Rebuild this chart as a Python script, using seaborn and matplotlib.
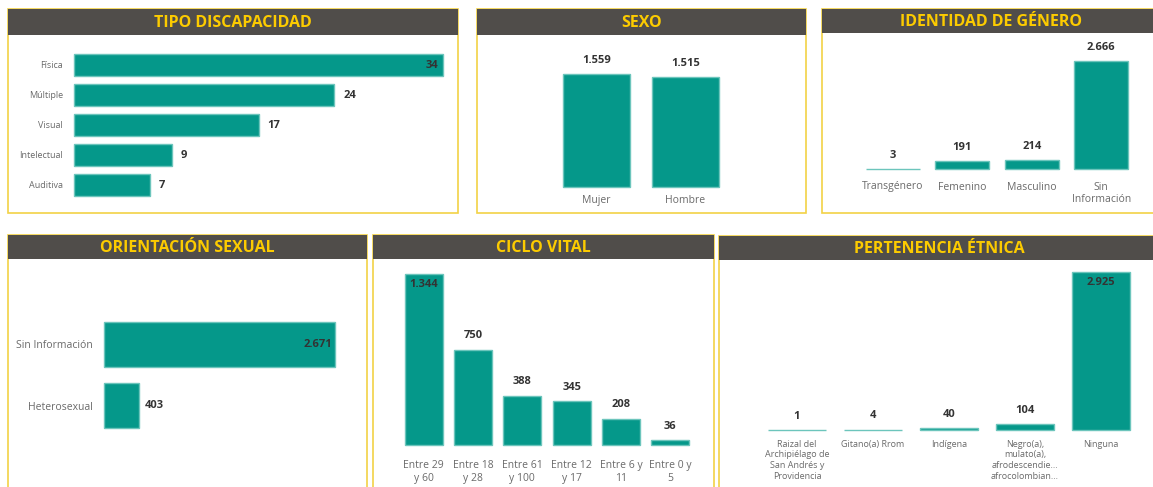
import matplotlib.pyplot as plt
import matplotlib.patches as mpatches
import seaborn as sns

# data
disc_cats = ["Física", "Múltiple", "Visual", "Intelectual", "Auditiva"]
disc_vals = [34, 24, 17, 9, 7]

sexo_cats = ["Mujer", "Hombre"]
sexo_vals = [1559, 1515]

genero_cats = ["Transgénero", "Femenino", "Masculino", "Sin\nInformación"]
genero_vals = [3, 191, 214, 2666]

orient_cats = ["Sin Información", "Heterosexual"]
orient_vals = [2671, 403]

ciclo_cats = ["Entre 29\ny 60", "Entre 18\ny 28", "Entre 61\ny 100", "Entre 12\ny 17",
              "Entre 6 y\n11", "Entre 0 y\n5"]
ciclo_vals = [1344, 750, 388, 345, 208, 36]

etnia_cats = ["Raizal del\nArchipiélago de\nSan Andrés y\nProvidencia", "Gitano(a) Rrom",
              "Indígena", "Negro(a),\nmulato(a),\nafrodescendie...\nafrocolombian...", "Ninguna"]
etnia_vals = [1, 4, 40, 104, 2925]

TEAL = "#05988a"
EDGE = "#6cc5bc"
HEADER = "#504d4a"
GOLD = "#fccb00"
BORDER = "#f2d246"
TICK = "#6a6a6a"
VALUE = "#333333"

W, H = 1153, 487

sns.set_theme(style="white")
plt.rcParams["font.family"] = ["Open Sans", "DejaVu Sans"]

fig = plt.figure(figsize=(W / 100, H / 100), dpi=100)


def fmt(v):
    return f"{v:,}".replace(",", ".")


def box(x0, y0, x1, y1):
    return [x0 / W, 1 - y1 / H, (x1 - x0) / W, (y1 - y0) / H]


def panel(x0, y0, x1, y1, head_h, title):
    fig.patches.append(mpatches.Rectangle((x0 / W, 1 - y1 / H), (x1 - x0) / W, (y1 - y0) / H,
                                          transform=fig.transFigure, facecolor="white",
                                          edgecolor=BORDER, lw=1.2, zorder=-3))
    fig.patches.append(mpatches.Rectangle((x0 / W, 1 - (y0 + head_h) / H), (x1 - x0) / W, head_h / H,
                                          transform=fig.transFigure, facecolor=HEADER,
                                          edgecolor="none", zorder=-2))
    fig.text((x0 + x1) / 2 / W, 1 - (y0 + head_h / 2 + 1) / H, title, ha="center", va="center",
             color=GOLD, fontsize=11.5, fontweight="bold", zorder=2)


def clean(ax):
    for s in ax.spines.values():
        s.set_visible(False)
    ax.set_xlabel("")
    ax.set_ylabel("")
    ax.patch.set_alpha(0)
    ax.grid(False)
    for p in ax.patches:
        p.set_clip_on(False)


def hbars(rect, cats, vals, xmax, fs=7):
    ax = fig.add_axes(box(*rect))
    sns.barplot(x=vals, y=cats, orient="h", color=TEAL, saturation=1, width=0.75,
                edgecolor=EDGE, linewidth=1.0, ax=ax)
    ax.set_xlim(0, xmax)
    ax.set_ylim(len(cats) - 0.5, -0.5)
    ax.set_xticks([])
    ax.tick_params(axis="y", length=0, pad=8, labelsize=fs, labelcolor=TICK)
    top = max(vals)
    for i, v in enumerate(vals):
        if v == top:
            ax.text(v - xmax * 0.012, i, fmt(v), ha="right", va="center", fontsize=8,
                    fontweight="bold", color=VALUE)
        else:
            ax.text(v + xmax * 0.025, i, fmt(v), ha="left", va="center", fontsize=8,
                    fontweight="bold", color=VALUE)
    clean(ax)
    return ax


def vbars(rect, cats, vals, width, inside_max, fs=7.5, pad=8):
    ax = fig.add_axes(box(*rect))
    sns.barplot(x=cats, y=vals, color=TEAL, saturation=1, width=width,
                edgecolor=EDGE, linewidth=1.0, ax=ax)
    top = max(vals)
    ax.set_ylim(0, top)
    ax.set_xlim(-0.5, len(cats) - 0.5)
    ax.set_yticks([])
    ax.tick_params(axis="x", length=0, pad=pad, labelsize=fs, labelcolor=TICK)
    for lbl in ax.get_xticklabels():
        lbl.set_linespacing(1.25)
    for i, v in enumerate(vals):
        if v == top and inside_max:
            ax.text(i, v - top * 0.03, fmt(v), ha="center", va="top", fontsize=8,
                    fontweight="bold", color=VALUE)
        else:
            ax.annotate(fmt(v), (i, v), xytext=(0, 6), textcoords="offset points",
                        ha="center", va="bottom", fontsize=8, fontweight="bold", color=VALUE)
    clean(ax)
    return ax


# panels
panel(8, 9, 458, 213, 26, "TIPO DISCAPACIDAD")
hbars((74, 50, 443, 200), disc_cats, disc_vals, 34, fs=6.5)

panel(477, 9, 806, 213, 26, "SEXO")
vbars((552, 74, 730, 187), sexo_cats, sexo_vals, 0.75, False, fs=7.5, pad=6)

panel(822, 9, 1160, 213, 24, "IDENTIDAD DE GÉNERO")
vbars((858, 61, 1136, 169), genero_cats, genero_vals, 0.78, False, fs=7.5, pad=9)

panel(8, 235, 367, 492, 24, "ORIENTACIÓN SEXUAL")
hbars((104, 314, 335, 436), orient_cats, orient_vals, 2671, fs=7.5)

panel(373, 235, 714, 492, 24, "CICLO VITAL")
vbars((399, 274, 695, 445), ciclo_cats, ciclo_vals, 0.77, True, fs=7.5, pad=11)

panel(719, 236, 1160, 492, 24, "PERTENENCIA ÉTNICA")
vbars((759, 272, 1139, 430), etnia_cats, etnia_vals, 0.76, True, fs=6.5, pad=7)

fig.savefig("out.png", dpi=100)
